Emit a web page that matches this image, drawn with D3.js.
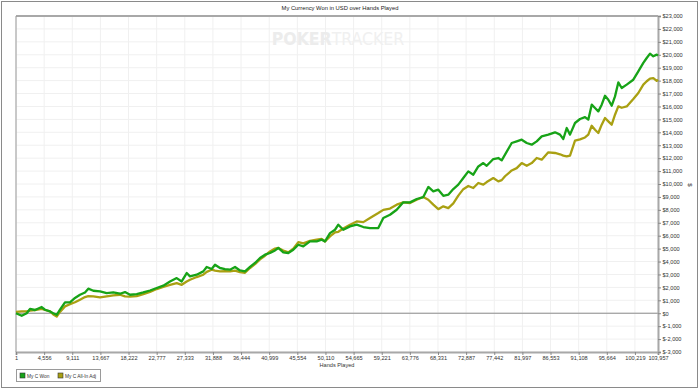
<!DOCTYPE html>
<html><head><meta charset="utf-8">
<script src="https://cdn.jsdelivr.net/npm/d3@7"></script>
<style>body{margin:0;background:#fff;}svg{display:block;font-family:"Liberation Sans",Arial,sans-serif;}</style>
</head><body>
<svg id="c" width="700" height="390"></svg>
<script>
const title = "My Currency Won in USD over Hands Played";
const seriesNames = ["My C Won", "My C All-In Adj"];
const hands = [1,923,1733,2267,3077,4162,4696,5506,6040,6591,7125,7935,8744,9554,10364,11173,11708,12517,13602,14687,15756,16841,17650,18460,19545,20614,21699,22784,23852,24937,26022,26832,27641,28176,29261,30330,30880,31690,32224,33034,33843,34653,35463,36272,37082,37892,38701,39511,40321,41130,41940,42474,43284,44094,44903,45713,46522,47607,48692,49502,50036,50846,51656,52190,53000,54085,55170,56238,57323,58667,59477,60562,61647,62716,63800,64885,65954,66764,67573,68383,69193,70002,70812,71622,72431,73241,74051,74860,75670,76221,77289,78099,78650,79184,80268,81078,81888,82698,83507,84317,85127,86196,87280,88090,88624,89175,89709,90519,91329,92138,92673,93223,93757,94292,94842,95377,95911,96462,96996,97530,98081,98891,99960,100769,101579,102130,102664,103199,103749,103957];
const won = [0,-200,0,330,250,480,270,140,0,-120,270,840,840,1180,1430,1610,1900,1740,1690,1560,1610,1510,1640,1430,1480,1610,1760,1950,2130,2450,2720,2460,3110,2850,2980,3240,3580,3420,3750,3500,3420,3370,3580,3310,3240,3580,3890,4270,4530,4660,4860,5050,4710,4660,4910,5300,5170,5560,5560,5690,5560,6200,6460,6850,6460,6720,6850,6670,6590,6590,7370,7620,8010,8580,8580,8840,8990,9770,9430,9560,9090,9170,9610,9950,10460,10980,10720,11360,11620,11410,11930,12010,11830,12270,13170,13300,13430,13170,13040,13300,13680,13820,14000,13820,13480,14330,13820,14720,15030,15180,14980,16140,15880,15620,16140,16830,16520,16060,16780,17860,17430,17690,18070,18720,19370,19750,20090,19880,20010,19950];
const allInAdj = [100,150,150,200,250,330,250,150,-100,-250,100,530,700,850,1050,1250,1330,1300,1220,1300,1380,1430,1300,1280,1320,1480,1650,1870,2030,2200,2330,2200,2450,2590,2800,2980,3200,3370,3300,3240,3250,3240,3300,3180,3130,3500,3800,4170,4450,4780,5000,5050,4850,4710,5000,5500,5400,5600,5700,5750,5550,5950,6250,6300,6550,6850,7100,7050,7370,7750,8000,8100,8400,8580,8530,8780,8990,8780,8400,8050,8270,8140,8500,9100,9600,9850,9690,10080,9950,10150,10460,10200,10300,10600,11050,11230,11620,11410,11620,12010,11880,12450,12400,12300,12200,12140,12200,13350,13450,13600,13820,14510,14200,13950,14590,15110,14850,14590,15360,16010,15900,16000,16580,17040,17690,17950,18150,18200,17980,18070];
const xTicks = [1,4556,9111,13667,18222,22777,27333,31888,36444,40999,45554,50110,54665,59221,63776,68331,72887,77442,81997,86553,91108,95664,100219,103957];
const yTicks = [-3000,-2000,-1000,0,1000,2000,3000,4000,5000,6000,7000,8000,9000,10000,11000,12000,13000,14000,15000,16000,17000,18000,19000,20000,21000,22000,23000];
const colors = ["#17a317", "#a9a012"];

const FONT = "'Liberation Sans', Arial, sans-serif";
const FS = 5.6;
const svg = d3.select("#c");
const L = 16, R = 658, T = 16, B = 352;
const x = d3.scaleLinear().domain([1, 103957]).range([L, R]);
const y = d3.scaleLinear().domain([-3000, 23000]).range([B, T]);

// outer frame
svg.append("rect").attr("x",1.5).attr("y",1.5).attr("width",696).attr("height",386)
  .attr("fill","none").attr("stroke","#8a8a8a").attr("stroke-width",1);

// title
svg.append("text").attr("x",340).attr("y",10).attr("text-anchor","middle")
  .attr("font-size",5.8).attr("fill","#222").text(title);

// gridlines
svg.append("g").selectAll("line").data(xTicks).join("line")
  .attr("x1",d=>x(d)).attr("x2",d=>x(d)).attr("y1",T).attr("y2",B)
  .attr("stroke","#f0f0f0").attr("stroke-width",1);
svg.append("g").selectAll("line").data(yTicks).join("line")
  .attr("x1",L).attr("x2",R).attr("y1",d=>y(d)).attr("y2",d=>y(d))
  .attr("stroke","#f0f0f0").attr("stroke-width",1);

// watermark
const wm = svg.append("text").attr("x",338).attr("y",45).attr("text-anchor","middle")
  .attr("font-size",17.5).attr("fill","#ececec");
wm.append("tspan").attr("font-weight","bold").attr("font-family","'Liberation Sans Narrow','DejaVu Sans Condensed',sans-serif").text("POKER");
wm.append("tspan").attr("font-family","'Liberation Sans Narrow','DejaVu Sans Condensed',sans-serif").attr("font-weight","normal").attr("fill","#f0f0f0").text("TRACKER");

// zero line
svg.append("line").attr("x1",L).attr("x2",R).attr("y1",y(0)).attr("y2",y(0))
  .attr("stroke","#8c8c8c").attr("stroke-width",1);

// axes
const xAxis = d3.axisBottom(x).tickValues(xTicks).tickSize(3).tickFormat(d3.format(","));
const gx = svg.append("g").attr("transform",`translate(0,${B})`).call(xAxis).attr("font-family",FONT);
gx.select(".domain").attr("stroke","#a8a8a8").attr("stroke-width",2);
gx.selectAll(".tick line").attr("stroke","#888");
gx.selectAll("text").attr("font-size",FS).attr("fill","#333").attr("y",4).attr("dy","0.71em");

const yAxis = d3.axisRight(y).tickValues(yTicks).tickSize(3)
  .tickFormat(d => "$" + (d < 0 ? "-" + d3.format(",")(-d) : d3.format(",")(d)));
const gy = svg.append("g").attr("transform",`translate(${R},0)`).call(yAxis).attr("font-family",FONT);
gy.select(".domain").attr("stroke","#a8a8a8").attr("stroke-width",2);
gy.selectAll(".tick line").attr("stroke","#888");
gy.selectAll("text").attr("font-size",FS).attr("fill","#333").attr("x",4.5);

// top & left borders
svg.append("line").attr("x1",L).attr("x2",R).attr("y1",T).attr("y2",T).attr("stroke","#a8a8a8").attr("stroke-width",2);
svg.append("line").attr("x1",L).attr("x2",L).attr("y1",T).attr("y2",B).attr("stroke","#9a9a9a").attr("stroke-width",1);

// axis titles
svg.append("text").attr("x",337).attr("y",367).attr("text-anchor","middle")
  .attr("font-size",FS).attr("fill","#333").text("Hands Played");
svg.append("text").attr("transform","translate(688,185) rotate(90)").attr("text-anchor","middle")
  .attr("font-size",6.2).attr("fill","#333").text("$");

// lines
const line = d3.line().x((d,i)=>x(hands[i])).y(d=>y(d));
[allInAdj, won].forEach((s, k) => {
  const idx = k === 0 ? 1 : 0;
  svg.append("path").datum(s).attr("d", line).attr("fill","none")
    .attr("stroke", colors[idx]).attr("stroke-width", 2.3).attr("stroke-linejoin","round");
});

// legend
const lg = svg.append("g");
lg.append("rect").attr("x",16.5).attr("y",369.5).attr("width",84).attr("height",12)
  .attr("fill","#fff").attr("stroke","#9a9a9a");
const lx = [20, 58];
seriesNames.forEach((n,i) => {
  lg.append("rect").attr("x",lx[i]).attr("y",373).attr("width",5).attr("height",5)
    .attr("fill",colors[i]).attr("stroke","#333").attr("stroke-width",0.6);
  lg.append("text").attr("x",lx[i]+7).attr("y",377.6).attr("font-size",4.8).attr("fill","#333").text(n);
});
</script>
</body></html>
